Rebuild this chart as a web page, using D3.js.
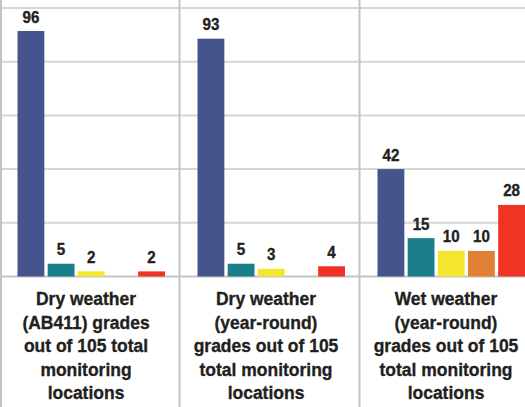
<!DOCTYPE html>
<html>
<head>
<meta charset="utf-8">
<script src="https://cdn.jsdelivr.net/npm/d3@7"></script>
<style>
    body { margin: 0; background: #fff; }
    svg { display: block; }
    text { font-family: "Liberation Sans", Arial, sans-serif; font-weight: bold; fill: #231f20; stroke: #231f20; stroke-width: 0.35px; }
</style>
</head>
<body>
<svg></svg>
<script>
// grade categories (A..F) and one count list per group
const grades = ["A", "B", "C", "D", "F"]
const groups = ["dryAB411", "dryYear", "wetYear"]
const dryAB411 = [96, 5, 2, 0, 2]
const dryYear = [93, 5, 3, 0, 4]
const wetYear = [42, 15, 10, 10, 28]
const groupLabels = [
    ["Dry weather", "(AB411) grades", "out of 105 total", "monitoring", "locations"],
    ["Dry weather", "(year-round)", "grades out of 105", "total monitoring", "locations"],
    ["Wet weather", "(year-round)", "grades out of 105", "total monitoring", "locations"]
]
const yTicks = [0, 21, 42, 63, 84, 105]
const gradeColors = ["#45548c", "#1b7f8b", "#f4e62f", "#e08135", "#ee3525"]

const w = 525
const h = 407
const base = 276.5
const top_y = 8
const squeeze = 0.93   // the original uses a semi-condensed face

const values = { dryAB411, dryYear, wetYear }

const svg = d3.select("svg")
    .attr("width", w)
    .attr("height", h)

//Scales
const xGroup = d3.scaleBand()
    .domain(groups)
    .range([0, 540])

const xGrade = d3.scaleBand()
    .domain(grades)
    .range([17.5, 165])
    .paddingInner(0.11)

const yScale = d3.scaleLinear()
    .domain([0, 105])
    .range([base, top_y])

const color = d3.scaleOrdinal()
    .domain(grades)
    .range(gradeColors)

//Gridlines
svg.append("g")
    .selectAll("line")
    .data(yTicks)
    .enter()
    .append("line")
    .attr("x1", 0)
    .attr("x2", w)
    .attr("y1", d => yScale(d))
    .attr("y2", d => yScale(d))
    .attr("stroke", d => d === 0 ? "#c4c4c4" : "#d6d6d6")
    .attr("stroke-width", 2)

//Separators
svg.append("g")
    .selectAll("line")
    .data(groups)
    .enter()
    .append("line")
    .attr("x1", (d, i) => i === 0 ? 1 : xGroup(d) - 0.5)
    .attr("x2", (d, i) => i === 0 ? 1 : xGroup(d) - 0.5)
    .attr("y1", 0)
    .attr("y2", h)
    .attr("stroke", "#c4c4c4")
    .attr("stroke-width", 2)

//Bars
const g = svg.selectAll(".group")
    .data(groups)
    .enter()
    .append("g")
    .attr("class", "group")
    .attr("transform", d => `translate(${xGroup(d)}, 0)`)

const rows = d => values[d].map((v, i) => ({ grade: grades[i], v })).filter(e => e.v > 0)

g.selectAll("rect")
    .data(rows)
    .enter()
    .append("rect")
    .attr("x", d => xGrade(d.grade))
    .attr("width", xGrade.bandwidth())
    .attr("y", d => yScale(d.v))
    .attr("height", d => base - yScale(d.v))
    .attr("fill", d => color(d.grade))

g.selectAll(".val")
    .data(rows)
    .enter()
    .append("text")
    .attr("class", "val")
    .attr("transform", d => `translate(${xGrade(d.grade) + xGrade.bandwidth() / 2}, ${yScale(d.v) - 8.5}) scale(${squeeze}, 1)`)
    .attr("text-anchor", "middle")
    .attr("font-size", 16.3)
    .text(d => d.v)

//Group labels
g.each(function(d, i) {
    d3.select(this).selectAll(".lbl")
        .data(groupLabels[i])
        .enter()
        .append("text")
        .attr("class", "lbl")
        .attr("transform", (t, j) => `translate(86, ${305 + j * 23.5}) scale(${squeeze}, 1)`)
        .attr("text-anchor", "middle")
        .attr("font-size", 18.8)
        .text(t => t)
})
</script>
</body>
</html>
